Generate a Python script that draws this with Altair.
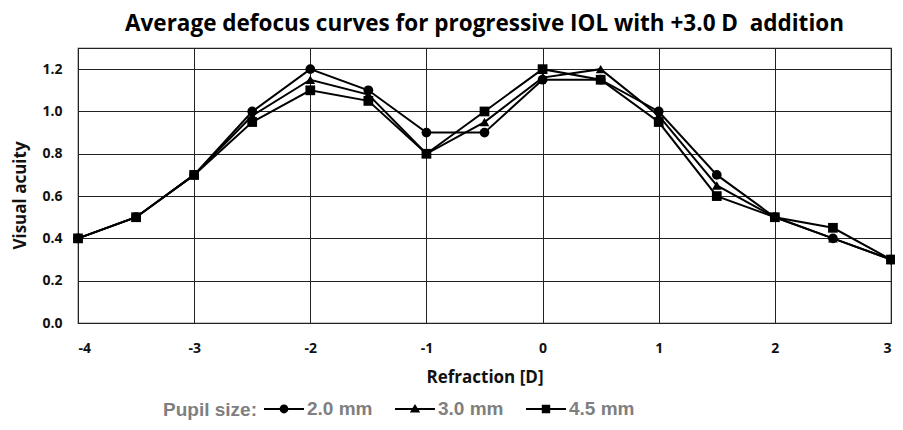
import altair as alt
import pandas as pd

refraction = [-4, -3.5, -3, -2.5, -2, -1.5, -1, -0.5, 0, 0.5, 1, 1.5, 2, 2.5, 3]
va_20 = [0.4, 0.5, 0.7, 1.0, 1.2, 1.1, 0.9, 0.9, 1.15, 1.15, 1.0, 0.7, 0.5, 0.4, 0.3]
va_30 = [0.4, 0.5, 0.7, 0.98, 1.15, 1.08, 0.8, 0.95, 1.16, 1.2, 0.98, 0.65, 0.5, 0.4, 0.3]
va_45 = [0.4, 0.5, 0.7, 0.95, 1.1, 1.05, 0.8, 1.0, 1.2, 1.15, 0.95, 0.6, 0.5, 0.45, 0.3]
series = ["2.0 mm", "3.0 mm", "4.5 mm"]

rows = []
for name, vals in zip(series, [va_20, va_30, va_45]):
    for x, y in zip(refraction, vals):
        rows.append({"Refraction": x, "VA": y, "Pupil": name})
df = pd.DataFrame(rows)

plot_shapes = ["circle", "triangle-up", "square"]
# legend symbols: a short line segment (thin filled bar) with the marker on it
legend_shapes = [
    "M-1,-0.05H1V0.05H-1ZM-0.22,0a0.22,0.22 0 1,1 0.44,0a0.22,0.22 0 1,1 -0.44,0Z",
    "M-1,-0.05H1V0.05H-1ZM0,-0.25L0.26,0.17L-0.26,0.17Z",
    "M-1,-0.05H1V0.05H-1ZM-0.21,-0.21H0.21V0.21H-0.21Z",
]

FONT = "Open Sans"

xenc = alt.X("Refraction:Q", scale=alt.Scale(domain=[-4, 3], nice=False),
             axis=alt.Axis(values=[-4, -3, -2, -1, 0, 1, 2, 3], labelExpr="'' + datum.value",
                           title="Refraction [D]", grid=True))
yenc = alt.Y("VA:Q", scale=alt.Scale(domain=[0, 1.3], nice=False),
             axis=alt.Axis(values=[0, 0.2, 0.4, 0.6, 0.8, 1.0, 1.2], format=".1f",
                           title="Visual acuity", grid=True, titleY=147))

lines = alt.Chart(df).mark_line(color="black", strokeWidth=2).encode(
    x=xenc, y=yenc, detail="Pupil:N"
)
points = alt.Chart(df).mark_point(filled=True, color="black", opacity=1, size=95).encode(
    x=xenc, y=yenc,
    shape=alt.Shape("Pupil:N", scale=alt.Scale(domain=series, range=plot_shapes), legend=None)
)
legend_layer = alt.Chart(df).transform_filter("false").mark_point(
    filled=True, color="black", strokeWidth=0, opacity=1
).encode(
    x=xenc, y=yenc,
    shape=alt.Shape("Pupil:N", scale=alt.Scale(domain=series, range=legend_shapes),
                    legend=alt.Legend(title="Pupil size:", orient="none", legendX=85, legendY=341,
                                      direction="horizontal", titleOrient="left",
                                      titleAnchor="middle", titleBaseline="line-top",
                                      titleLineHeight=12.5,
                                      symbolSize=1600, symbolFillColor="black",
                                      symbolStrokeWidth=0,
                                      labelColor="#7f7f7f", titleColor="#7f7f7f",
                                      labelFont="Liberation Sans", titleFont="Liberation Sans",
                                      labelFontSize=19, titleFontSize=19,
                                      labelFontWeight="bold", titleFontWeight="bold",
                                      titlePadding=7, labelOffset=3, columnPadding=22))
)

chart = alt.layer(lines, points, legend_layer).resolve_scale(shape="independent").properties(
    width=813, height=275,
    autosize=alt.AutoSizeParams(type="none"),
    padding={"left": 70, "top": 40, "right": 4, "bottom": 98},
    title=alt.TitleParams("Average defocus curves for progressive IOL with +3.0 D\u00a0 addition",
                          font=FONT, fontSize=22.5, fontWeight="bold", color="black",
                          anchor="middle", offset=13),
).configure_view(stroke="#222", strokeWidth=1.2).configure_axis(
    gridColor="#222", gridWidth=1, gridOpacity=1, domain=False, ticks=False,
    labelFont=FONT, labelFontSize=14, labelFontWeight="bold", labelColor="#111",
    titleFont=FONT, titleFontSize=17, titleFontWeight="bold", titleColor="#111",
).configure_axisX(labelPadding=18, titlePadding=14).configure_axisY(
    labelPadding=16, titlePadding=12, titleFontSize=17)

chart.save("out.html", embed_options={"renderer": "svg", "actions": False})
